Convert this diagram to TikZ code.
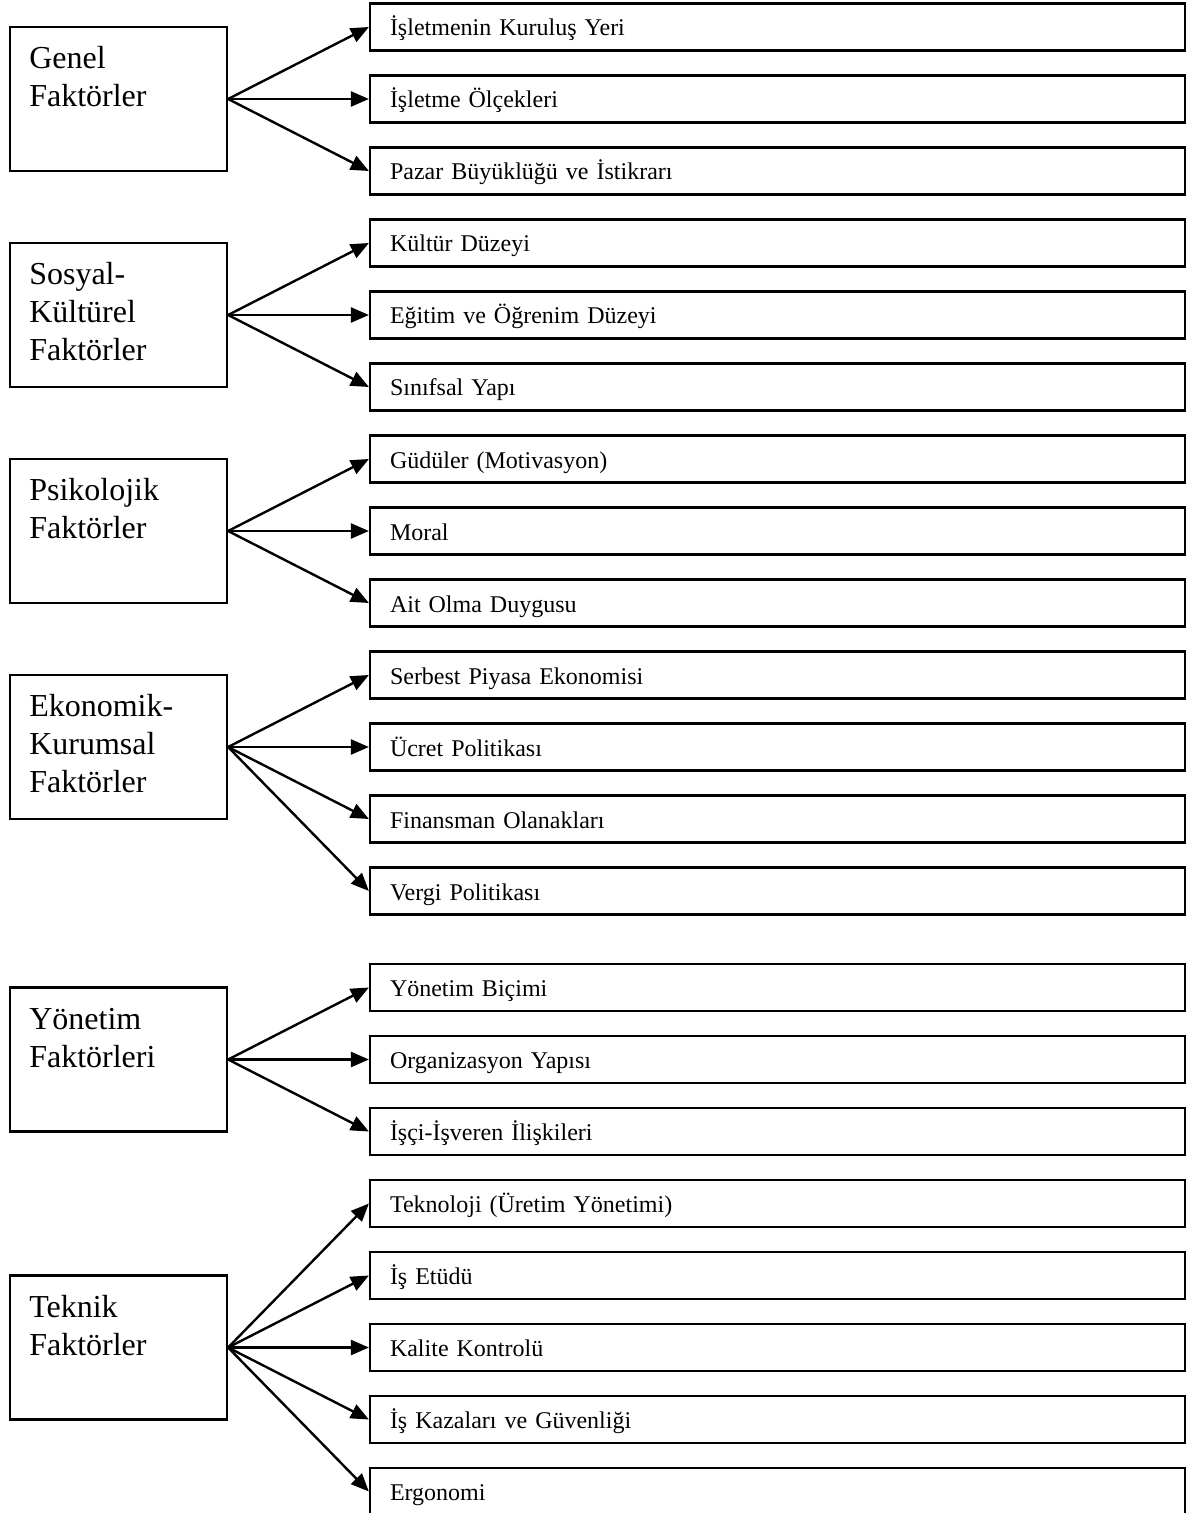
\documentclass[tikz,border=0pt]{standalone}
\usepackage{fontspec}
\setmainfont{Liberation Serif}
\usetikzlibrary{arrows.meta}
\begin{document}
\begin{tikzpicture}[x=0.5pt,y=-0.5pt,
  group/.style={draw, line width=1.1pt, minimum width=108.5pt, minimum height=72pt, inner sep=0pt},
  grouptext/.style={anchor=north west, inner sep=0pt, align=left, font=\fontsize{16}{19}\selectfont},
  item/.style={draw, line width=1.1pt, text width=387.5pt, inner xsep=10pt, inner ysep=0pt,
    minimum height=23.5pt, align=left, text height=9pt, text depth=0pt, font=\fontsize{12}{14}\selectfont},
  link/.style={line width=1.2pt, -{Triangle[length=9pt,width=7.5pt]}}]
\useasboundingbox (0,0) rectangle (1203,1513);
\clip (0,0) rectangle (1203,1513);

% factor groups: empty frame plus its top-left caption
\node[group] (genel) at (118.5,99) {};
\node[grouptext] (genelT) at ([shift={(10pt,-8pt)}]genel.north west) {\strut Genel\\Faktörler};
\node[group] (sosyal) at (118.5,315) {};
\node[grouptext] (sosyalT) at ([shift={(10pt,-8pt)}]sosyal.north west) {\strut Sosyal-\\Kültürel\\Faktörler};
\node[group] (psiko) at (118.5,531) {};
\node[grouptext] (psikoT) at ([shift={(10pt,-8pt)}]psiko.north west) {\strut Psikolojik\\Faktörler};
\node[group] (ekon) at (118.5,747) {};
\node[grouptext] (ekonT) at ([shift={(10pt,-8pt)}]ekon.north west) {\strut Ekonomik-\\Kurumsal\\Faktörler};
\node[group] (yonet) at (118.5,1059.5) {};
\node[grouptext] (yonetT) at ([shift={(10pt,-8pt)}]yonet.north west) {\strut Yönetim\\Faktörleri};
\node[group] (teknik) at (118.5,1347.5) {};
\node[grouptext] (teknikT) at ([shift={(10pt,-8pt)}]teknik.north west) {\strut Teknik\\Faktörler};

% items
\node[item] (g1) at (777.5,27) {İşletmenin Kuruluş Yeri};
\node[item] (g2) at (777.5,99) {İşletme Ölçekleri};
\node[item] (g3) at (777.5,171) {Pazar Büyüklüğü ve İstikrarı};
\node[item] (s1) at (777.5,243) {Kültür Düzeyi};
\node[item] (s2) at (777.5,315) {Eğitim ve Öğrenim Düzeyi};
\node[item] (s3) at (777.5,387) {Sınıfsal Yapı};
\node[item] (p1) at (777.5,459) {Güdüler (Motivasyon)};
\node[item] (p2) at (777.5,531) {Moral};
\node[item] (p3) at (777.5,603) {Ait Olma Duygusu};
\node[item] (e1) at (777.5,675) {Serbest Piyasa Ekonomisi};
\node[item] (e2) at (777.5,747) {Ücret Politikası};
\node[item] (e3) at (777.5,819) {Finansman Olanakları};
\node[item] (e4) at (777.5,891) {Vergi Politikası};
\node[item] (y1) at (777.5,987.5) {Yönetim Biçimi};
\node[item] (y2) at (777.5,1059.5) {Organizasyon Yapısı};
\node[item] (y3) at (777.5,1131.5) {İşçi-İşveren İlişkileri};
\node[item] (t1) at (777.5,1203.5) {Teknoloji (Üretim Yönetimi)};
\node[item] (t2) at (777.5,1275.5) {İş Etüdü};
\node[item] (t3) at (777.5,1347.5) {Kalite Kontrolü};
\node[item] (t4) at (777.5,1419.5) {İş Kazaları ve Güvenliği};
\node[item] (t5) at (777.5,1491.5) {Ergonomi};

% connectors
\foreach \a/\b in {genel/g1,genel/g2,genel/g3,
                   sosyal/s1,sosyal/s2,sosyal/s3,
                   psiko/p1,psiko/p2,psiko/p3,
                   ekon/e1,ekon/e2,ekon/e3,ekon/e4,
                   yonet/y1,yonet/y2,yonet/y3,
                   teknik/t1,teknik/t2,teknik/t3,teknik/t4,teknik/t5}
  \draw[link] (\a.east) -- (\b.west);
\end{tikzpicture}
\end{document}
